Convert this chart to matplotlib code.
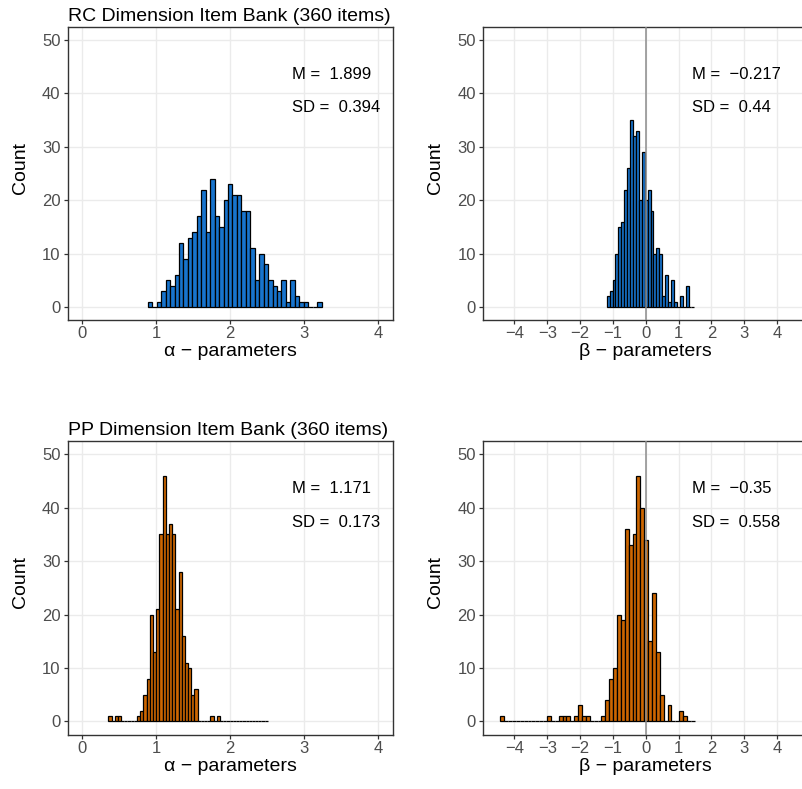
import numpy as np
import matplotlib.pyplot as plt

plt.rcParams['font.family'] = ['Liberation Sans', 'DejaVu Sans']

# Item parameter histograms: counts per bin, first bin edge and bin width
rc_alpha_counts = [1, 0, 1, 3, 5, 4, 6, 12, 9, 13, 14, 17, 22, 14, 24, 17, 15, 20, 23, 21,
                   21, 18, 18, 11, 5, 10, 8, 5, 4, 3, 5, 1, 5, 2, 1, 1, 0, 0, 1]
rc_alpha_start, rc_alpha_width = 0.885, 0.0603

rc_beta_counts = [2, 3, 5, 10, 15, 16, 22, 26, 35, 32, 33, 20, 29, 20, 22, 18, 10, 11, 10, 2,
                  6, 1, 5, 1, 0, 2, 0, 4, 0, 0]
rc_beta_start, rc_beta_width = -1.19, 0.089

pp_alpha_counts = [1, 0, 1, 1, 0, 0, 0, 0, 0, 1, 2, 5, 8, 20, 13, 21, 35, 46, 35, 37,
                   35, 21, 28, 16, 11, 10, 5, 6, 0, 0, 0, 0, 1, 0, 1, 0, 0, 0, 0, 0,
                   0, 0, 0, 0, 0, 0, 0, 0, 0, 0]
pp_alpha_start, pp_alpha_width = 0.35, 0.0432

pp_beta_counts = [1, 0, 0, 0, 0, 0, 0, 0, 0, 0, 0, 0, 1, 0, 0, 1, 1, 1, 0, 1,
                  3, 1, 1, 0, 0, 0, 1, 4, 8, 10, 20, 19, 36, 33, 35, 46, 40, 34, 15, 24,
                  13, 5, 0, 3, 0, 0, 2, 1, 0, 0]
pp_beta_start, pp_beta_width = -4.43, 0.1184

rc_stats = {'alpha': ('1.899', '0.394'), 'beta': ('\u22120.217', '0.44')}
pp_stats = {'alpha': ('1.171', '0.173'), 'beta': ('\u22120.35', '0.558')}

alpha_ticks = [0, 1, 2, 3, 4]
beta_ticks = [-4, -3, -2, -1, 0, 1, 2, 3, 4]
count_ticks = [0, 10, 20, 30, 40, 50]

blue = '#1874CD'
orange = '#CD6600'

W, H = 803, 789
fig = plt.figure(figsize=(W / 100, H / 100), dpi=100)


def add_panel(left, top, width, height):
    return fig.add_axes([left / W, 1 - (top + height) / H, width / W, height / H])


def draw_hist(ax, counts, start, width, color, kind, stats, title=None):
    counts = np.asarray(counts)
    edges = start + width * np.arange(len(counts))
    ax.bar(edges, counts, width=width, align='edge', color=color,
           edgecolor='black', linewidth=0.9, zorder=3)
    if kind == 'alpha':
        ax.set_xlim(-0.2, 4.2)
        ax.set_xticks(alpha_ticks)
        ax.set_xlabel('\u03b1 \u2212 parameters', fontsize=14, labelpad=1.5)
        tx = 2.83
    else:
        ax.axvline(0, color='#8c8c8c', linewidth=1.1, zorder=4)
        ax.set_xlim(-4.95, 4.95)
        ax.set_xticks(beta_ticks)
        ax.set_xticklabels([str(t).replace('-', '\u2212') for t in beta_ticks])
        ax.set_xlabel('\u03b2 \u2212 parameters', fontsize=14, labelpad=1.5)
        tx = 1.42
    ax.set_ylim(-2.5, 52.5)
    ax.set_yticks(count_ticks)
    ax.set_ylabel('Count', fontsize=14)
    ax.yaxis.set_label_coords(-0.12, 0.52)
    m, sd = stats
    ax.text(tx, 43.6, 'M =  ' + m, fontsize=12, va='center', ha='left', zorder=5)
    ax.text(tx, 37.3, 'SD =  ' + sd, fontsize=12, va='center', ha='left', zorder=5)
    ax.grid(True, color='#ebebeb', linewidth=1.0, zorder=0)
    ax.set_axisbelow(True)
    for s in ax.spines.values():
        s.set_color('#333333')
        s.set_linewidth(1.0)
    ax.tick_params(colors='#333333', labelcolor='#4d4d4d', labelsize=12,
                   length=2.75, width=0.9)
    ax.tick_params(axis='x', pad=1.5)
    ax.tick_params(axis='y', pad=2.5)
    if title:
        ax.set_title(title, loc='left', fontsize=14, pad=4)


ax1 = add_panel(67.7, 26.7, 325, 293.7)
draw_hist(ax1, rc_alpha_counts, rc_alpha_start, rc_alpha_width, blue, 'alpha',
          rc_stats['alpha'], 'RC Dimension Item Bank (360 items)')

ax2 = add_panel(483.3, 26.7, 325, 293.7)
draw_hist(ax2, rc_beta_counts, rc_beta_start, rc_beta_width, blue, 'beta',
          rc_stats['beta'])

ax3 = add_panel(67.7, 441.0, 325, 293.7)
draw_hist(ax3, pp_alpha_counts, pp_alpha_start, pp_alpha_width, orange, 'alpha',
          pp_stats['alpha'], 'PP Dimension Item Bank (360 items)')

ax4 = add_panel(483.3, 441.0, 325, 293.7)
draw_hist(ax4, pp_beta_counts, pp_beta_start, pp_beta_width, orange, 'beta',
          pp_stats['beta'])

fig.savefig('out.png', dpi=100)
